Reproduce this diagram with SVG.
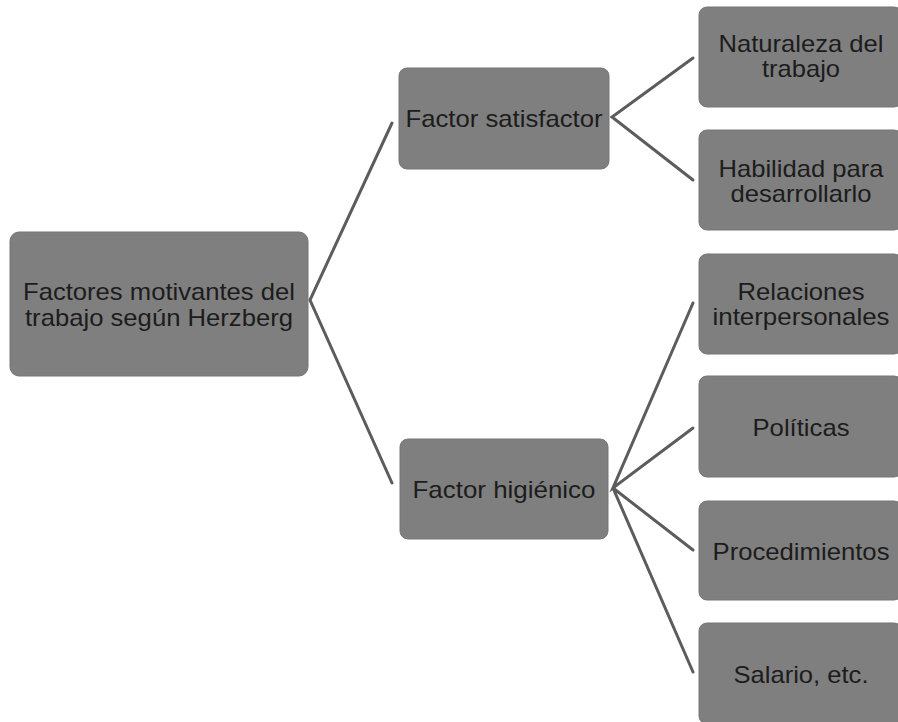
<svg xmlns="http://www.w3.org/2000/svg" width="898" height="722" viewBox="0 0 898 722">
  <style>
    .box { fill: #7f7f7f; stroke: #777; stroke-width: 1; }
    .lbl { font-family: "Liberation Sans", Arial, sans-serif; font-size: 24px; fill: #1c1c1c; text-anchor: middle; }
    .conn { fill: none; stroke: #5c5c5c; stroke-width: 3; stroke-linejoin: miter; stroke-linecap: round; }
  </style>
  <rect width="898" height="722" fill="#ffffff"/>
  <g id="connectors">
    <path class="conn" d="M392,123 L310,300 L392,483"/>
    <path class="conn" d="M693,58 L612,117 L693,180"/>
    <path class="conn" d="M693,303 L613,488 L693,428"/>
    <path class="conn" d="M693,550 L613,488 L693,672"/>
  </g>
  <g id="root">
    <rect class="box" x="10" y="232" width="298" height="144" rx="9"/>
    <text class="lbl" x="159" y="300" textLength="272" lengthAdjust="spacingAndGlyphs">Factores motivantes del</text>
    <text class="lbl" x="159" y="326" textLength="268" lengthAdjust="spacingAndGlyphs">trabajo según Herzberg</text>
  </g>
  <g id="satisfactor">
    <rect class="box" x="399" y="68" width="210" height="101" rx="8"/>
    <text class="lbl" x="504" y="127" textLength="197" lengthAdjust="spacingAndGlyphs">Factor satisfactor</text>
  </g>
  <g id="higienico">
    <rect class="box" x="400" y="439" width="208" height="100" rx="8"/>
    <text class="lbl" x="504" y="498" textLength="183" lengthAdjust="spacingAndGlyphs">Factor higiénico</text>
  </g>
  <g id="naturaleza">
    <rect class="box" x="699" y="7" width="203" height="100" rx="8"/>
    <text class="lbl" x="801" y="52" textLength="165" lengthAdjust="spacingAndGlyphs">Naturaleza del</text>
    <text class="lbl" x="801" y="77" textLength="78" lengthAdjust="spacingAndGlyphs">trabajo</text>
  </g>
  <g id="habilidad">
    <rect class="box" x="699" y="130" width="203" height="100" rx="8"/>
    <text class="lbl" x="801" y="177" textLength="165" lengthAdjust="spacingAndGlyphs">Habilidad para</text>
    <text class="lbl" x="801" y="202" textLength="141" lengthAdjust="spacingAndGlyphs">desarrollarlo</text>
  </g>
  <g id="relaciones">
    <rect class="box" x="699" y="254" width="203" height="100" rx="8"/>
    <text class="lbl" x="801" y="300" textLength="127" lengthAdjust="spacingAndGlyphs">Relaciones</text>
    <text class="lbl" x="801" y="325" textLength="177" lengthAdjust="spacingAndGlyphs">interpersonales</text>
  </g>
  <g id="politicas">
    <rect class="box" x="699" y="376" width="203" height="101" rx="8"/>
    <text class="lbl" x="801" y="436" textLength="97" lengthAdjust="spacingAndGlyphs">Políticas</text>
  </g>
  <g id="procedimientos">
    <rect class="box" x="699" y="501" width="203" height="99" rx="8"/>
    <text class="lbl" x="801" y="560" textLength="177" lengthAdjust="spacingAndGlyphs">Procedimientos</text>
  </g>
  <g id="salario">
    <rect class="box" x="699" y="623" width="203" height="101" rx="8"/>
    <text class="lbl" x="801" y="683" textLength="135" lengthAdjust="spacingAndGlyphs">Salario, etc.</text>
  </g>
</svg>
